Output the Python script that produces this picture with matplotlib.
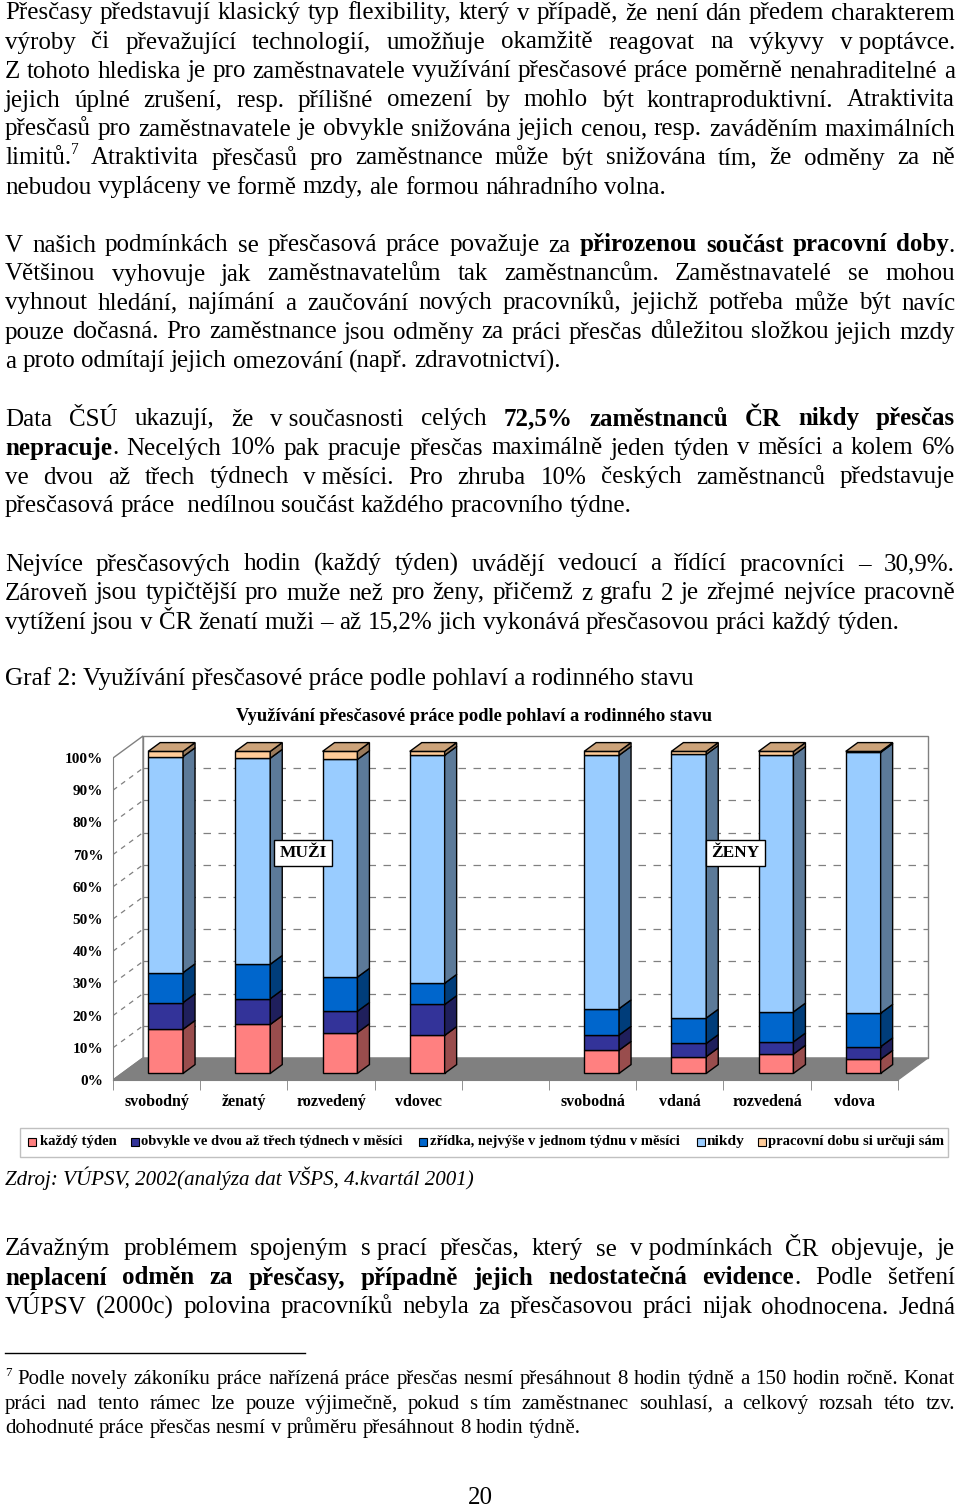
import matplotlib
matplotlib.use('Agg')
import matplotlib.pyplot as plt
from matplotlib.patches import Polygon, Rectangle
import numpy as np

plt.rcParams['font.family'] = ['Liberation Serif', 'DejaVu Serif']

W, H = 960, 1509

# ---------------- data grafu ----------------
kategorie = ['svobodný', 'ženatý', 'rozvedený', 'vdovec', '',
             'svobodná', 'vdaná', 'rozvedená', 'vdova']
serie = ['každý týden', 'obvykle ve dvou až třech týdnech v měsíci',
         'zřídka, nejvýše v jednom týdnu v měsíci', 'nikdy',
         'pracovní dobu si určuji sám']
kazdy = [13.7, 15.2, 12.7, 11.8, 0, 7.2, 5.2, 6.0, 4.4]
obvykle = [8.3, 8.0, 6.6, 9.6, 0, 4.7, 4.1, 3.8, 3.9]
zridka = [9.3, 10.7, 10.6, 6.6, 0, 8.2, 7.9, 9.3, 10.4]
nikdy = [67.1, 64.0, 67.6, 70.8, 0, 78.7, 81.9, 79.7, 81.0]
sam = [1.6, 2.1, 2.5, 1.2, 0, 1.2, 0.9, 1.2, 0.3]
y_ticks = list(range(0, 101, 10))

barvy = ['#FF8080', '#333399', '#0066CC', '#99CCFF', '#FFCC99']

fig = plt.figure(figsize=(W / 100, H / 100), dpi=100)
renderer = fig.canvas.get_renderer()


def px(x, y):
    return x / W, 1 - y / H


def sirka(t):
    return t.get_window_extent(renderer).width


def radek(yc, s, size=18, justify=True, x0=5, x1=955, style='normal'):
    base = yc + size * 100 / 72 * 0.3
    words = []
    bold = False
    for w in s.split(' '):
        if w == '':
            continue
        segs = []
        for k, p in enumerate(w.split('**')):
            if k > 0:
                bold = not bold
            if p == '':
                continue
            if '^' in p:
                a, b = p.split('^')
                if a:
                    segs.append((a, bold, False))
                segs.append((b, bold, True))
            else:
                segs.append((p, bold, False))
        words.append(segs)
    objs = []
    widths = []
    for segs in words:
        wo = []
        ww = 0
        for txt, b, sup in segs:
            t = fig.text(0, 0, txt, fontsize=size * (0.62 if sup else 1),
                         fontweight='bold' if b else 'normal', fontstyle=style,
                         va='baseline', color='black')
            wd = sirka(t)
            wo.append((t, wd, sup))
            ww += wd
        objs.append(wo)
        widths.append(ww)
    t1 = fig.text(0, 0, 'a a', fontsize=size, fontstyle=style)
    t2 = fig.text(0, 0, 'aa', fontsize=size, fontstyle=style)
    space = sirka(t1) - sirka(t2)
    t1.remove()
    t2.remove()
    if justify and len(words) > 1:
        gap = (x1 - x0 - sum(widths)) / (len(words) - 1)
    else:
        gap = space
    x = x0
    for wo, ww in zip(objs, widths):
        xx = x
        for t, wd, sup in wo:
            t.set_position(px(xx, base - (size * 100 / 72 * 0.4 if sup else 0)))
            xx += wd
        x += ww + gap


def fit(x0, x1, yc, s, size, **kw):
    t = fig.text(0, 0, s, fontsize=size, va='center', **kw)
    wd = sirka(t)
    t.set_fontsize(size * (x1 - x0) / wd)
    t.set_position(px(x0, yc))
    return t


# ---------------- text nad grafem ----------------
odstavec1 = [
    "Přesčasy představují klasický typ flexibility, který v případě, že není dán předem charakterem",
    "výroby či převažující technologií, umožňuje okamžitě reagovat na výkyvy v\u00a0poptávce.",
    "Z tohoto hlediska je pro zaměstnavatele využívání přesčasové práce poměrně nenahraditelné a",
    "jejich úplné zrušení, resp. přílišné omezení by mohlo být kontraproduktivní. Atraktivita",
    "přesčasů pro zaměstnavatele je obvykle snižována jejich cenou, resp. zaváděním maximálních",
    "limitů.^7 Atraktivita přesčasů pro zaměstnance může být snižována tím, že odměny za ně",
    "nebudou vypláceny ve formě mzdy, ale formou náhradního volna.",
]
odstavec2 = [
    "V našich podmínkách se přesčasová práce považuje za **přirozenou součást pracovní doby**.",
    "Většinou vyhovuje jak zaměstnavatelům tak zaměstnancům. Zaměstnavatelé se mohou",
    "vyhnout hledání, najímání a zaučování nových pracovníků, jejichž potřeba může být navíc",
    "pouze dočasná. Pro zaměstnance jsou odměny za práci přesčas důležitou složkou jejich mzdy",
    "a proto odmítají jejich omezování (např. zdravotnictví).",
]
odstavec3 = [
    "Data ČSÚ ukazují, že v\u00a0současnosti celých **72,5% zaměstnanců ČR nikdy přesčas**",
    "**nepracuje**. Necelých 10% pak pracuje přesčas maximálně jeden týden v měsíci a kolem 6%",
    "ve dvou až třech týdnech v\u00a0měsíci. Pro zhruba 10% českých zaměstnanců představuje",
    "přesčasová práce \u00a0nedílnou součást každého pracovního týdne.",
]
odstavec4 = [
    "Nejvíce přesčasových hodin (každý týden) uvádějí vedoucí a řídící pracovníci – 30,9%.",
    "Zároveň jsou typičtější pro muže než pro ženy, přičemž z grafu 2 je zřejmé nejvíce pracovně",
    "vytížení jsou v ČR ženatí muži – až 15,2% jich vykonává přesčasovou práci každý týden.",
]
odstavec5 = [
    "Závažným problémem spojeným s\u00a0prací přesčas, který se v\u00a0podmínkách ČR objevuje, je",
    "**neplacení odměn za přesčasy, případně jejich nedostatečná evidence**. Podle šetření",
    "VÚPSV (2000c) polovina pracovníků nebyla za přesčasovou práci nijak ohodnocena. Jedná",
]
poznamka = [
    "^7 Podle novely zákoníku práce nařízená práce přesčas nesmí přesáhnout 8 hodin týdně a 150 hodin ročně. Konat",
    "práci nad tento rámec lze pouze výjimečně, pokud s\u00a0tím zaměstnanec souhlasí, a celkový rozsah této tzv.",
    "dohodnuté práce přesčas nesmí v průměru přesáhnout 8 hodin týdně.",
]

for odst, y0 in [(odstavec1, 12), (odstavec2, 244), (odstavec3, 418),
                 (odstavec4, 563), (odstavec5, 1248)]:
    for i, s in enumerate(odst):
        posledni = (i == len(odst) - 1) and odst is not odstavec5
        radek(y0 + 29 * i, s, justify=not posledni)

for i, s in enumerate(poznamka):
    radek(1378 + 24.5 * i, s, size=15, justify=(i < 2))

fig.add_artist(plt.Line2D([5 / W, 305 / W], [1 - 1353 / H] * 2, color='black', lw=1))
fig.text(480 / W, 1 - 1498 / H, '20', fontsize=18, ha='center', va='center')

fit(5, 693, 679, 'Graf 2: Využívání přesčasové práce podle pohlaví a rodinného stavu', 18)
fit(236, 713, 716, 'Využívání přesčasové práce podle pohlaví a rodinného stavu', 12.5,
    fontweight='bold')
fit(5, 474, 1178, 'Zdroj: VÚPSV, 2002(analýza dat VŠPS, 4.kvartál 2001)', 16,
    fontstyle='italic')

# ---------------- graf ----------------
SLOT, PCT = 87.2, 3.22
xmax, ymax = 9.45, 108
ax = fig.add_axes([113 / W, (H - 1080) / H, xmax * SLOT / W, ymax * PCT / H])
ax.set_xlim(0, xmax)
ax.set_ylim(0, ymax)
ax.patch.set_alpha(0)
DX, DY = 30 / SLOT, 22 / PCT
seda = '#808080'

ax.add_patch(Polygon([(DX, DY), (9 + DX, DY), (9 + DX, 100 + DY), (DX, 100 + DY)],
                     closed=True, fc='white', ec=seda, lw=1, zorder=1))
ax.add_patch(Polygon([(0, 0), (DX, DY), (DX, 100 + DY), (0, 100)],
                     closed=True, fc='white', ec=seda, lw=1, zorder=1))
for v in y_ticks[1:-1]:
    ax.plot([DX, 9 + DX], [v + DY, v + DY], color=seda, lw=0.9, dashes=(6, 6), zorder=1.5)
    ax.plot([0, DX], [v, v + DY], color=seda, lw=0.9, dashes=(4, 4), zorder=1.5)
ax.add_patch(Polygon([(0, 0), (9, 0), (9 + DX, DY), (DX, DY)],
                     closed=True, fc=seda, ec=seda, lw=1, zorder=2))

f, g, w = 0.3, 0.4, 0.4
x_lev = np.arange(9) + 0.3 + f * DX
mask = np.array([k != '' for k in kategorie])
spodek = np.zeros(9)
hodnoty = [kazdy, obvykle, zridka, nikdy, sam]
for vals, c in zip(hodnoty, barvy):
    vals = np.array(vals, dtype=float)
    ax.bar(x_lev[mask], vals[mask], width=w, bottom=spodek[mask] + f * DY, align='edge',
           color=c, edgecolor='black', lw=1, zorder=3)
    rgb = np.array(matplotlib.colors.to_rgb(c))
    for i in np.where(mask)[0]:
        b = spodek[i] + f * DY
        t = b + vals[i]
        xr = x_lev[i] + w
        ax.add_patch(Polygon([(xr, b), (xr + g * DX, b + g * DY), (xr + g * DX, t + g * DY), (xr, t)],
                             closed=True, fc=rgb * 0.6, ec='black', lw=1, zorder=3))
    spodek = spodek + vals
for i in np.where(mask)[0]:
    t = spodek[i] + f * DY
    xl = x_lev[i]
    ax.add_patch(Polygon([(xl, t), (xl + w, t), (xl + w + g * DX, t + g * DY), (xl + g * DX, t + g * DY)],
                         closed=True, fc=np.array(matplotlib.colors.to_rgb(barvy[-1])) * 0.8,
                         ec='black', lw=1, zorder=3.5))

for s in ['top', 'right']:
    ax.spines[s].set_visible(False)
ax.spines['left'].set_bounds(0, 100)
ax.spines['bottom'].set_bounds(0, 9)
for s in ['left', 'bottom']:
    ax.spines[s].set_color(seda)
    ax.spines[s].set_zorder(2.5)

ax.set_yticks(y_ticks)
ax.set_yticklabels([f'{v}%' for v in y_ticks], fontweight='bold', fontsize=11)
ax.tick_params(axis='y', length=0, pad=7)
ax.set_xticks(np.arange(9) + 0.5)
ax.set_xticklabels(kategorie, fontweight='bold', fontsize=11.5)
ax.tick_params(axis='x', length=0, pad=10)
ax.set_xticks(range(10), minor=True)
ax.tick_params(axis='x', which='minor', length=7, color=seda, direction='out')

for lab, xx in [('MUŽI', 2.18), ('ŽENY', 7.14)]:
    ax.text(xx, 70.5, lab, ha='center', va='center', fontweight='bold', fontsize=12.5,
            zorder=6, bbox=dict(boxstyle='square,pad=0.3', fc='white', ec='black', lw=1))

# ---------------- legenda ----------------
fig.add_artist(Rectangle(px(20, 1157), 928 / W, 29 / H, fc='white', ec='#C0C0C0', lw=1))
ctverce = [28, 131, 419, 697, 758]
texty = [(40, 117), (141, 405), (430, 683), (707, 745), (768, 946)]
for c, sq, (a, b), s in zip(barvy, ctverce, texty, serie):
    fig.add_artist(Rectangle(px(sq, 1146), 8 / W, 8 / H, fc=c, ec='black', lw=0.8))
    fit(a, b, 1142, s, 9.5, fontweight='bold')

fig.savefig('out.png', dpi=100)
